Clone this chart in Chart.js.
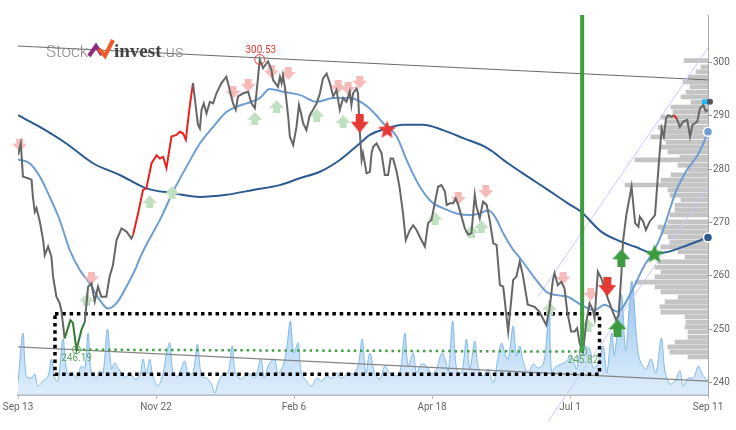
<!DOCTYPE html>
<html>
<head>
<meta charset="utf-8">
<script src="https://cdn.jsdelivr.net/npm/chart.js@4.4.0/dist/chart.umd.min.js"></script>
<style>
  html, body { margin: 0; padding: 0; background: #fff; }
</style>
</head>
<body>
<canvas id="myChart" width="736" height="430"></canvas>
<script>
"use strict";

// x is trading day counted from Sep 13
let xTickDays = [0, 50, 100, 150, 200, 250];
let xTickLabels = ['Sep 13', 'Nov 22', 'Feb 6', 'Apr 18', 'Jul 1', 'Sep 11'];
let yTicks = [240, 250, 260, 270, 280, 290, 300];
let yMin = 237.7;
let yMax = 308.86;

let priceDay = [0,1,1.8,3.6,4.9,5.4,6.1,6.7,7.9,9.1,
  9.7,10.9,12.1,12.7,13.9,15.1,15.7,16.9,19.0,19.9,
  21.2,23.0,24.2,25.4,26.6,27.8,29.0,30.2,32.0,33.2,
  34.4,35.7,37.5,39.3,41.1,41.7,43.5,45.3,46.5,48.4,
  50.2,51.4,52.6,53.8,55.6,57.4,58.6,59.8,60.8,62.2,
  63.4,65.2,65.9,66.5,67.3,68.3,69.5,70.7,71.9,73.7,
  75.5,76.7,77.9,78.9,79.7,81.6,83.4,84.6,85.8,86.4,
  87.6,88.8,90.6,91.8,92.4,94.2,94.9,95.5,96.0,96.7,
  97.9,98.5,99.7,100.9,101.8,102.7,103.3,104.5,105.7,106.9,
  108.2,109.4,110.5,111.8,113.0,114.2,115.4,116.6,117.8,119.0,
  120.2,120.8,121.4,122.7,123.2,123.8,124.5,125.0,126.3,127.5,
  128.1,128.7,129.9,131.7,132.9,134.1,135.0,135.9,137.2,138.3,
  139.5,140.5,142.0,143.2,144.4,145.6,147.4,148.6,149.8,151.0,
  152.2,153.4,154.7,155.3,156.5,157.7,158.6,159.5,160.7,161.9,
  163.1,164.3,165.5,166.1,167.3,168.5,169.8,170.9,172.2,173.4,
  174.6,175.8,177.6,179.4,180.6,181.8,182.9,184.7,187.2,188.9,
  191.4,192.6,193.8,194.4,195.6,196.8,198.0,199.0,200.4,201.7,
  202.6,203.5,204.7,205.9,207.1,208.3,208.9,210.1,211.3,212.5,
  213.7,215.5,216.7,217.6,218.6,219.2,220.4,222.3,223.6,224.8,
  225.3,226.5,227.5,228.9,230.8,232.0,233.2,234.0,234.8,235.6,
  236.8,237.7,238.7,239.8,241.0,242.5,243.5,244.4,246.1,247.1,
  248.3,249.2,250];

let priceClose = [282.6,284.8,278.6,278.3,278.0,274.8,272.0,272.7,270.2,266.7,
  263.9,265.5,263.6,259.9,256.1,254.9,253.6,248.3,251.7,251.2,
  246.19,249.9,251.4,258.0,258.6,255.2,258.0,256.1,256.1,259.9,
  262.0,266.7,268.9,268.3,267.0,267.7,271.7,276.1,276.4,281.1,
  282.6,282.0,282.3,280.2,286.1,286.4,287.0,286.7,285.5,291.7,
  296.1,288.3,287.6,291.1,292.3,290.4,292.6,292.3,294.2,296.1,
  297.3,294.8,292.3,291.1,293.6,294.2,294.5,292.3,291.4,294.2,
  300.53,298.9,300.2,298.6,296.7,295.4,297.3,296.1,297.6,295.4,
  289.8,286.1,284.5,287.9,292.0,290.1,288.6,287.3,290.1,291.1,
  292.3,294.2,297.0,297.9,296.1,293.6,294.8,291.1,293.3,292.6,
  294.5,292.0,294.2,295.1,294.2,287.3,281.7,283.0,279.2,279.5,
  283.0,284.2,284.8,283.0,278.9,278.9,282.0,282.0,279.5,276.4,
  271.7,266.7,268.6,269.5,268.6,267.3,265.5,269.9,270.5,273.6,
  276.7,277.0,275.8,273.3,273.6,273.6,274.5,273.3,271.1,268.9,
  267.7,268.0,275.2,273.0,270.8,273.9,273.3,270.5,266.1,265.8,
  258.3,258.0,249.6,259.2,259.9,262.7,260.2,254.6,254.2,253.3,
  250.8,253.9,259.2,260.5,258.3,258.9,257.7,253.3,249.6,249.6,
  250.2,247.4,245.82,251.4,254.9,253.6,252.1,260.8,259.6,257.7,
  255.8,253.3,251.7,252.7,260.2,266.4,271.4,276.7,269.9,269.2,
  271.1,270.2,268.6,270.2,271.4,279.8,287.6,286.1,289.5,290.1,
  289.8,290.1,289.4,287.9,288.9,289.2,286.1,288.3,288.9,291.4,
  292.0,290.8,291.1];

// day ranges where the price line is coloured
let redRuns = [[41.7, 63.4], [237.7, 238.7]];
let greenRuns = [[16.9, 24.2]];

let fastDay = [0,4.2,7.9,11.5,15.1,18.7,22.4,26.0,29.6,32.6,
  35.7,39.3,42.9,44.1,52.0,56.2,61.0,65.9,70.7,75.5,
  79.2,82.8,87.6,91.2,96.0,102.1,108.2,114.2,120.2,125.0,
  128.7,132.3,137.2,140.8,145.6,150.4,154.0,158.9,163.7,167.3,
  170.4,172.8,175.8,179.4,181.8,187.2,191.5,195.1,199.2,204.0,
  208.9,212.5,217.3,222.2,227.0,230.2,233.1,238.6,242.3,245.9,
  248.3,250];
let fastMA = [281.8,281.1,278.6,274.8,270.5,264.9,261.1,258.6,255.5,253.9,
  254.9,258.0,261.7,263.3,271.1,275.8,280.4,284.8,287.9,290.7,
  291.7,292.3,293.3,295.0,294.5,293.9,292.6,293.3,293.3,292.3,
  290.7,288.6,286.1,281.7,276.7,273.6,272.7,271.7,271.4,271.7,
  272.3,271.1,268.0,264.9,263.4,259.6,257.0,256.4,256.1,254.6,
  253.6,254.6,253.3,257.0,262.0,264.5,267.7,276.1,279.8,282.3,
  284.8,287.0];

let slowDay = [0,7.9,17.5,27.2,36.9,46.5,56.2,65.9,75.5,85.2,
  94.8,102.1,109.4,116.6,123.8,127.5,133.5,139.5,146.8,154.0,
  161.3,170.2,177.5,184.7,192.0,199.2,204.0,211.3,218.6,223.4,
  230.8,235.5,242.7,250];
let slowMA = [290.1,287.9,284.8,281.1,278.9,276.4,275.5,274.8,275.2,276.1,
  277.0,278.3,279.5,281.7,284.8,286.4,287.6,288.3,288.3,287.3,
  285.8,283.9,281.1,278.6,276.1,273.6,272.0,268.3,266.4,265.5,
  264.2,264.5,265.8,267.2];

// [day, volume in millions]
let volume = [[0,1.2],[1.8,6.2],[3.0,1.9],[4.9,1.7],[6.1,2.1],[7.2,0.9],[9.1,1.4],[10.9,1.9],[12.1,3.6],[13.3,1.7],
  [14.5,1.4],[16.3,5.6],[17.5,2.6],[18.7,1.9],[19.9,2.2],[21.2,1.7],[23.0,2.9],[24.2,2.7],[25.4,6.2],[26.6,2.2],
  [28.4,1.7],[29.6,2.4],[30.8,2.2],[32.4,6.6],[33.9,2.6],[35.0,3.2],[36.2,2.7],[37.5,2.2],[38.7,1.7],[40.5,2.2],
  [42.3,1.6],[44.1,1.9],[45.3,3.6],[46.5,2.2],[47.7,3.6],[48.9,1.9],[50.7,0.9],[52.6,2.2],[53.8,4.2],[55.0,5.2],
  [56.2,2.2],[58.0,1.9],[60.4,3.4],[61.6,2.2],[63.4,2.2],[65.0,5.1],[66.5,1.9],[68.3,1.7],[70.1,1.1],[71.3,0.2],
  [72.5,1.2],[74.3,2.1],[76.1,2.2],[77.6,4.9],[78.8,2.2],[81.0,1.6],[83.4,2.2],[85.8,1.7],[88.0,3.6],[89.2,1.7],
  [90.6,2.9],[91.8,3.4],[93.0,3.6],[94.2,2.2],[96.0,2.9],[97.3,4.6],[98.7,7.4],[99.9,4.2],[101.5,5.2],[102.7,2.2],
  [104.5,1.4],[106.3,0.9],[108.2,1.7],[110.0,1.4],[111.8,1.9],[113.6,1.7],[115.4,2.2],[117.2,1.7],[119.6,2.2],[121.4,2.1],
  [123.2,2.9],[124.7,5.6],[126.0,2.2],[127.5,4.2],[129.3,2.1],[131.1,1.6],[132.9,2.9],[134.7,2.2],[136.5,1.9],[138.3,2.2],
  [140.2,6.2],[141.4,2.9],[143.2,4.2],[144.4,2.2],[146.2,3.1],[148.0,2.9],[149.8,2.1],[151.6,2.6],[153.5,4.2],[154.7,3.6],
  [155.9,2.4],[157.5,7.4],[158.9,2.6],[160.7,2.2],[162.5,5.6],[163.7,2.6],[165.5,5.4],[166.7,2.9],[168.5,1.9],[170.4,2.6],
  [172.2,1.2],[174.0,3.9],[175.2,5.2],[176.4,4.2],[177.6,3.6],[179.4,6.9],[180.6,3.9],[181.8,4.9],[183.0,3.4],[184.8,2.2],
  [186.7,3.1],[188.5,2.7],[190.3,3.1],[191.4,5.2],[192.5,9.4],[193.3,2.4],[195.1,2.9],[197.0,3.1],[198.8,3.4],[200.6,3.9],
  [202.4,2.6],[204.2,5.6],[205.4,4.9],[207.2,4.6],[208.4,2.7],[210.2,3.2],[212.0,4.9],[213.3,2.2],[215.1,6.2],[216.1,4.0],
  [218.6,10.1],[220.2,4.4],[222.4,11.4],[224.9,3.9],[227.5,2.6],[229.3,3.6],[231.1,2.2],[233.1,5.7],[234.4,2.4],[236.2,1.1],
  [238.0,1.4],[239.8,2.4],[241.0,0.9],[242.8,1.7],[244.7,1.7],[246.5,2.9],[247.7,2.2],[248.9,1.7],[250,1.4]];

// volume at price: [price, relative volume]
let profile = [[300.7,24],[299.5,7],[298.6,12],[297.6,20],[296.7,25],[295.8,18],[294.8,22],[293.9,27],[292.9,17],[292.0,37],
  [291.1,35],[290.1,47],[289.2,42],[288.2,50],[287.3,43],[286.4,57],[285.4,42],[284.5,47],[283.6,40],[282.6,28],
  [282.1,73],[281.1,30],[280.2,20],[279.3,37],[278.3,47],[277.4,83],[276.5,40],[275.5,38],[274.6,27],[273.6,33],
  [272.7,33],[271.8,38],[270.5,40],[269.5,50],[268.6,47],[267.7,40],[266.7,38],[265.8,47],[264.9,30],[263.9,23],
  [263.0,50],[262.0,53],[261.1,47],[260.2,53],[259.2,73],[258.3,53],[257.4,47],[256.4,30],[255.5,43],[254.6,48],
  [253.6,47],[252.7,23],[251.7,22],[250.8,23],[249.9,20],[248.9,20],[248.0,33],[247.1,40],[246.1,38],[245.2,20]];

let topTrend = [[0, 303.05], [250, 296.7]];
let bottomTrend = [[0, 246.7], [250, 240.3]];
let channelUpper = [[188.4, 256.1], [250, 302.7]];
let channelLower = [[192.0, 232.7], [250, 276.5]];
let supportBox = [[13.4, 252.9], [210.7, 252.9], [210.7, 241.6], [13.4, 241.6], [13.4, 252.9]];
let lowPoints = [[21.2, 246.19], [204.7, 245.82]];
let peakPoints = [[87.6, 300.53]];
let pivotLine = [[204.4, yMax], [204.4, 245.82]];

let sellHints = [[0.6,284.5],[26.6,259.6],[77.9,294.4],[83.4,295.7],[91.8,298.2],[97.9,297.9],[116.0,295.4],[119.6,295.1],[123.8,296.3],[159.5,274.5],[169.5,275.8],[197.5,259.6],[207.5,256.6]];
let buyHints = [[24.8,255.5],[47.7,273.9],[55.8,275.6],[85.8,289.5],[93.7,291.7],[108.2,290.1],[117.8,288.9],[151.1,270.8],[164.3,268.3],[167.9,269.2],[192.6,253.9],[206.5,250.8]];
let sellSignals = [[123.8,288.6],[213.5,258.0]];
let buySignals = [[218.6,263.3],[217.2,250.2]];
let redStars = [[133.7,287.5]];
let greenStars = [[230.6,264.2]];
let lastTag = 292.6;

function toPoints(pairs) {
  return pairs.map(p => ({ x: p[0], y: p[1] }));
}

function zipPoints(xs, ys) {
  return xs.map((x, i) => ({ x: x, y: ys[i] }));
}

function arrowCanvas(dir, w, h, color) {
  let c = document.createElement('canvas');
  c.width = w;
  c.height = h;
  let g = c.getContext('2d');
  let sw = Math.round(w * 0.44);
  let sh = Math.round(h * 0.42);
  let s1 = (w - sw) / 2, s2 = s1 + sw;
  g.fillStyle = color;
  g.beginPath();
  if (dir === 'down') {
    g.moveTo(s1, 0); g.lineTo(s2, 0); g.lineTo(s2, sh); g.lineTo(w, sh);
    g.lineTo(w / 2, h); g.lineTo(0, sh); g.lineTo(s1, sh);
  } else {
    g.moveTo(w / 2, 0); g.lineTo(w, h - sh); g.lineTo(s2, h - sh); g.lineTo(s2, h);
    g.lineTo(s1, h); g.lineTo(s1, h - sh); g.lineTo(0, h - sh);
  }
  g.closePath();
  g.fill();
  return c;
}

function starCanvas(size, color) {
  let c = document.createElement('canvas');
  c.width = size;
  c.height = size;
  let g = c.getContext('2d');
  let r = size / 2, ri = r * 0.45;
  g.fillStyle = color;
  g.beginPath();
  for (let k = 0; k < 10; k++) {
    let rad = k % 2 === 0 ? r : ri;
    let a = -Math.PI / 2 + k * Math.PI / 5;
    let px = r + rad * Math.cos(a), py = r + 1 + rad * Math.sin(a);
    if (k === 0) g.moveTo(px, py); else g.lineTo(px, py);
  }
  g.closePath();
  g.fill();
  return c;
}

function runColor(ctx) {
  let a = priceDay[ctx.p0DataIndex], b = priceDay[ctx.p1DataIndex];
  if (redRuns.some(r => a >= r[0] && b <= r[1])) return '#e8231f';
  if (greenRuns.some(r => a >= r[0] && b <= r[1])) return '#2e7d32';
  return undefined;
}

function volumeFill(ctx) {
  let area = ctx.chart.chartArea;
  if (!area) return 'rgba(150,200,240,0.5)';
  let g = ctx.chart.ctx.createLinearGradient(0, area.bottom - 110, 0, area.bottom);
  g.addColorStop(0, 'rgba(110,175,235,0.75)');
  g.addColorStop(1, 'rgba(200,225,247,0.6)');
  return g;
}

function markerSet(pairs, img, order) {
  return {
    type: 'scatter',
    data: toPoints(pairs),
    pointStyle: img,
    pointRadius: 8,
    clip: false,
    order: order
  };
}

function plainLine(pairs, color, width, order, extra) {
  return Object.assign({
    type: 'line',
    data: toPoints(pairs),
    borderColor: color,
    borderWidth: width,
    pointRadius: 0,
    tension: 0,
    fill: false,
    order: order
  }, extra || {});
}

let overlay = {
  id: 'overlay',
  afterDatasetsDraw(chart) {
    let c = chart.ctx, xs = chart.scales.x, ys = chart.scales.y;
    c.save();
    c.font = '10px Roboto';
    c.textAlign = 'center';
    c.textBaseline = 'middle';
    c.fillStyle = '#e53935';
    peakPoints.forEach(p => c.fillText(p[1].toFixed(2), xs.getPixelForValue(p[0]) + 1, ys.getPixelForValue(p[1]) - 9));
    c.fillStyle = '#5fa85f';
    lowPoints.forEach(p => c.fillText(p[1].toFixed(2), xs.getPixelForValue(p[0]), ys.getPixelForValue(p[1]) + 9));

    // last price tag on the axis
    let ty = ys.getPixelForValue(lastTag);
    let right = chart.chartArea.right;
    c.fillStyle = '#29b6f6';
    c.fillRect(right - 6, ty - 2.5, 7, 5);
    c.fillStyle = '#555';
    c.beginPath();
    c.arc(right + 2, ty, 3, 0, Math.PI * 2);
    c.fill();

    // logo
    c.textAlign = 'left';
    c.textBaseline = 'alphabetic';
    c.font = '300 17px Roboto';
    c.fillStyle = '#8a8a8a';
    c.fillText('Stock', 46, 57);
    c.lineWidth = 4;
    c.lineJoin = 'miter';
    c.strokeStyle = '#8e2a7e';
    c.beginPath();
    c.moveTo(89, 56); c.lineTo(96, 46); c.lineTo(102, 55);
    c.stroke();
    c.strokeStyle = '#f15a29';
    c.beginPath();
    c.moveTo(99, 49); c.lineTo(105, 56); c.lineTo(113, 40);
    c.stroke();
    c.font = 'bold 19px "Liberation Serif"';
    c.fillStyle = '#444';
    c.fillText('invest', 114, 57);
    let w = c.measureText('invest').width;
    c.font = '300 17px Roboto';
    c.fillStyle = '#8a8a8a';
    c.fillText('.us', 114 + w, 57);
    c.restore();
  }
};

Chart.defaults.font.family = 'Roboto';

let chartObject = {
  type: 'line',
  data: {
    datasets: [
      {
        type: 'line',
        data: toPoints(volume),
        yAxisID: 'vol',
        borderColor: 'rgba(120,180,232,0.9)',
        borderWidth: 1,
        backgroundColor: volumeFill,
        fill: 'start',
        pointRadius: 0,
        tension: 0.35,
        order: 20
      },
      {
        type: 'bar',
        indexAxis: 'y',
        data: profile.map(p => ({ x: p[1], y: p[0] })),
        xAxisID: 'xp',
        yAxisID: 'y',
        backgroundColor: '#c4c4c4',
        barThickness: 4,
        order: 19
      },
      plainLine(topTrend, '#6a6a6a', 1, 18),
      plainLine(bottomTrend, '#858585', 1.3, 18),
      plainLine(channelUpper, '#c9c9fb', 1, 17, { clip: false }),
      plainLine(channelLower, '#c9c9fb', 1, 17, { clip: false }),
      plainLine(supportBox, '#000', 3.5, 16, { borderDash: [3.5, 3.8] }),
      plainLine(lowPoints, '#45a045', 2.5, 15, { borderDash: [2.5, 3.8] }),
      {
        type: 'line',
        data: zipPoints(slowDay, slowMA),
        borderColor: '#2c5b93',
        borderWidth: 2,
        pointRadius: 0,
        cubicInterpolationMode: 'monotone',
        order: 12
      },
      {
        type: 'line',
        data: zipPoints(fastDay, fastMA),
        borderColor: '#6d9dd1',
        borderWidth: 2,
        pointRadius: 0,
        cubicInterpolationMode: 'monotone',
        order: 11
      },
      markerSet(sellHints, arrowCanvas('down', 15, 13, '#f5baba'), 10),
      markerSet(buyHints, arrowCanvas('up', 15, 13, '#c1e0c1'), 10),
      {
        type: 'line',
        data: zipPoints(priceDay, priceClose),
        borderColor: '#666',
        borderWidth: 2,
        pointRadius: 0,
        tension: 0,
        segment: { borderColor: runColor },
        order: 8
      },
      plainLine(pivotLine, '#3f9b3f', 4, 6),
      markerSet(sellSignals, arrowCanvas('down', 18, 19, '#e53935'), 4),
      markerSet(buySignals, arrowCanvas('up', 18, 18, '#3d9b40'), 4),
      markerSet(redStars, starCanvas(19, '#e53935'), 4),
      markerSet(greenStars, starCanvas(20, '#3d9b40'), 4),
      {
        type: 'scatter',
        data: toPoints(peakPoints),
        pointRadius: 5,
        borderColor: '#e53935',
        borderWidth: 1,
        backgroundColor: 'rgba(0,0,0,0)',
        clip: false,
        order: 2
      },
      {
        type: 'scatter',
        data: toPoints(lowPoints),
        pointRadius: 4,
        borderColor: '#5fa85f',
        borderWidth: 1,
        backgroundColor: 'rgba(0,0,0,0)',
        clip: false,
        order: 2
      },
      {
        type: 'scatter',
        data: [{ x: fastDay[fastDay.length - 1], y: fastMA[fastMA.length - 1] },
               { x: slowDay[slowDay.length - 1], y: slowMA[slowMA.length - 1] }],
        pointRadius: 4.5,
        backgroundColor: ['#6d9dd1', '#2c5b93'],
        borderColor: '#fff',
        borderWidth: 1.5,
        clip: false,
        order: 1
      }
    ]
  },
  options: {
    responsive: false,
    animation: false,
    events: [],
    layout: { padding: { left: 18, top: 15, right: 0, bottom: 0 } },
    plugins: { legend: { display: false }, tooltip: { enabled: false } },
    scales: {
      x: {
        type: 'linear',
        position: 'bottom',
        min: 0,
        max: 250,
        offset: false,
        afterBuildTicks: s => { s.ticks = xTickDays.map(v => ({ value: v })); },
        afterFit: s => { s.height = 35; },
        ticks: {
          autoSkip: false,
          maxRotation: 0,
          color: '#666',
          font: { size: 10 },
          padding: 2,
          callback: (v, i) => xTickLabels[i]
        },
        grid: { drawOnChartArea: false, tickLength: 4, color: '#bbb', offset: false },
        border: { color: '#bbb', width: 2 }
      },
      y: {
        type: 'linear',
        position: 'right',
        min: yMin,
        max: yMax,
        offset: false,
        afterBuildTicks: s => { s.ticks = yTicks.map(v => ({ value: v })); },
        afterFit: s => { s.width = 28; },
        ticks: { color: '#666', font: { size: 10 }, padding: 1 },
        grid: { drawOnChartArea: false, tickLength: 4, color: '#999', offset: false },
        border: { color: '#aaa', dash: [2, 2] }
      },
      vol: { axis: 'y', display: false, min: 0, max: 38 },
      xp: { axis: 'x', type: 'linear', display: false, min: 0, max: 690, reverse: true }
    }
  },
  plugins: [overlay]
};

let ctx = document.getElementById('myChart').getContext('2d');
let myChart = new Chart(ctx, chartObject);
</script>
</body>
</html>
